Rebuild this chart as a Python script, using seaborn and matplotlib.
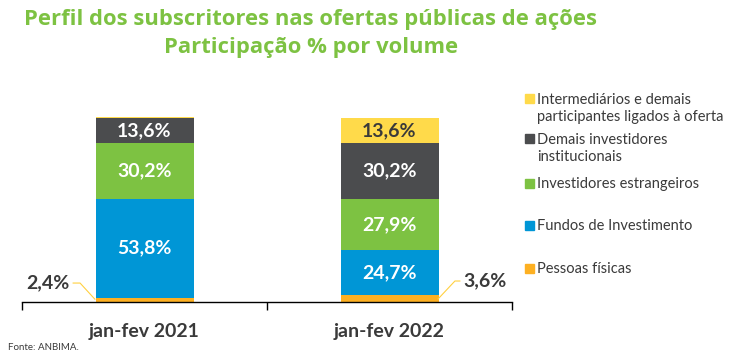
import numpy as np
import pandas as pd
import matplotlib
matplotlib.use("Agg")
import matplotlib.pyplot as plt
from matplotlib.patches import Rectangle
import seaborn as sns

# ----------------------------
# data (% of volume)
# ----------------------------
periodos = ["jan-fev 2021", "jan-fev 2022"]
segmentos = ["Pessoas físicas", "Fundos de Investimento", "Investidores estrangeiros",
             "Demais investidores\ninstitucionais",
             "Intermediários e demais\nparticipantes ligados à oferta"]
pessoas_fisicas = [2.4, 3.6]
fundos = [53.8, 24.7]
estrangeiros = [30.2, 27.9]
demais_inst = [13.6, 30.2]
intermediarios = [0.3, 13.6]

cores = ["#FDB022", "#0096D6", "#7DC242", "#4B4C4E", "#FFDA4A"]
cor_texto = ["white", "white", "white", "white", "#3A3A3A"]
cinza = "#3A3A3A"

sns.set_style("white")
plt.rcParams["font.family"] = ["Lato", "DejaVu Sans"]

valores = np.array([pessoas_fisicas, fundos, estrangeiros, demais_inst, intermediarios])
acum = valores.cumsum(axis=0)


def pct(v):
    return f"{v:.1f}%".replace(".", ",")


fig = plt.figure(figsize=(7.5, 3.56), dpi=100)
ax = fig.add_axes([22 / 750, 54 / 356, 490 / 750, 184 / 356])

# stacked bars: draw cumulative totals from the top layer down
for i in range(len(segmentos) - 1, -1, -1):
    df = pd.DataFrame({"periodo": periodos, "valor": acum[i]})
    sns.barplot(data=df, x="periodo", y="valor", color=cores[i], width=0.4,
                saturation=1, edgecolor="none", linewidth=0, ax=ax)

# labels inside segments
for i in range(1, len(segmentos)):
    for j in range(len(periodos)):
        v = valores[i, j]
        if v < 5:
            continue
        y = acum[i, j] - v / 2
        ax.text(j, y, pct(v), ha="center", va="center",
                color=cor_texto[i], fontsize=14, fontweight="bold")

# pessoas físicas: labels outside with leader lines
ax.plot([-0.202, -0.263, -0.292], [pessoas_fisicas[0] * 0.6, 10.3, 10.3],
        color="#FFD040", lw=0.8, clip_on=False)
ax.text(-0.305, 10.3, pct(pessoas_fisicas[0]), ha="right", va="center",
        fontsize=14, fontweight="bold", color=cinza)
ax.plot([1.198, 1.267, 1.288], [pessoas_fisicas[1] * 0.45, 11.4, 11.4],
        color="#FFD040", lw=0.8, clip_on=False)
ax.text(1.300, 11.4, pct(pessoas_fisicas[1]), ha="left", va="center",
        fontsize=14, fontweight="bold", color=cinza)

ax.set_xlim(-0.5, 1.5)
ax.set_ylim(0, 100)
ax.set_xlabel("")
ax.set_ylabel("")
ax.set_yticks([])
ax.set_xticks([0, 1])
ax.set_xticklabels(periodos, fontsize=14, fontweight="bold", color=cinza)
ax.set_xticks([-0.5, 0.5, 1.5], minor=True)
ax.tick_params(axis="x", which="major", bottom=False, length=0, pad=15)
ax.tick_params(axis="x", which="minor", bottom=True, length=6, width=1,
               color="black", direction="out")
for s in ["top", "right", "left"]:
    ax.spines[s].set_visible(False)
ax.spines["bottom"].set_color("black")
ax.spines["bottom"].set_linewidth(1)
for p in ax.patches:
    p.set_clip_on(False)

# title
verde = "#7DC242"
fig.text(311 / 750, 1 - 19 / 356, "Perfil dos subscritores nas ofertas públicas de ações",
         ha="center", va="center", fontsize=15.8, fontweight="bold", color=verde,
         family=["Open Sans", "DejaVu Sans"])
fig.text(311 / 750, 1 - 47 / 356, "Participação % por volume",
         ha="center", va="center", fontsize=15.8, fontweight="bold", color=verde,
         family=["Open Sans", "DejaVu Sans"])

# legend (manual, top to bottom)
leg_y = [99, 139, 183, 225, 268]
for k, i in enumerate(range(len(segmentos) - 1, -1, -1)):
    yc = 1 - leg_y[k] / 356
    fig.patches.append(Rectangle((525 / 750, yc - 4.5 / 356), 9 / 750, 9 / 356,
                                 transform=fig.transFigure, color=cores[i]))
    fig.text(537 / 750, yc + 6 / 356, segmentos[i], ha="left", va="top",
             fontsize=10.5, color=cinza, linespacing=1.3)

fig.text(8 / 750, 1 - 348 / 356, "Fonte: ANBIMA.", ha="left", va="center",
         fontsize=7, color=cinza)

fig.savefig("out.png", dpi=100)
